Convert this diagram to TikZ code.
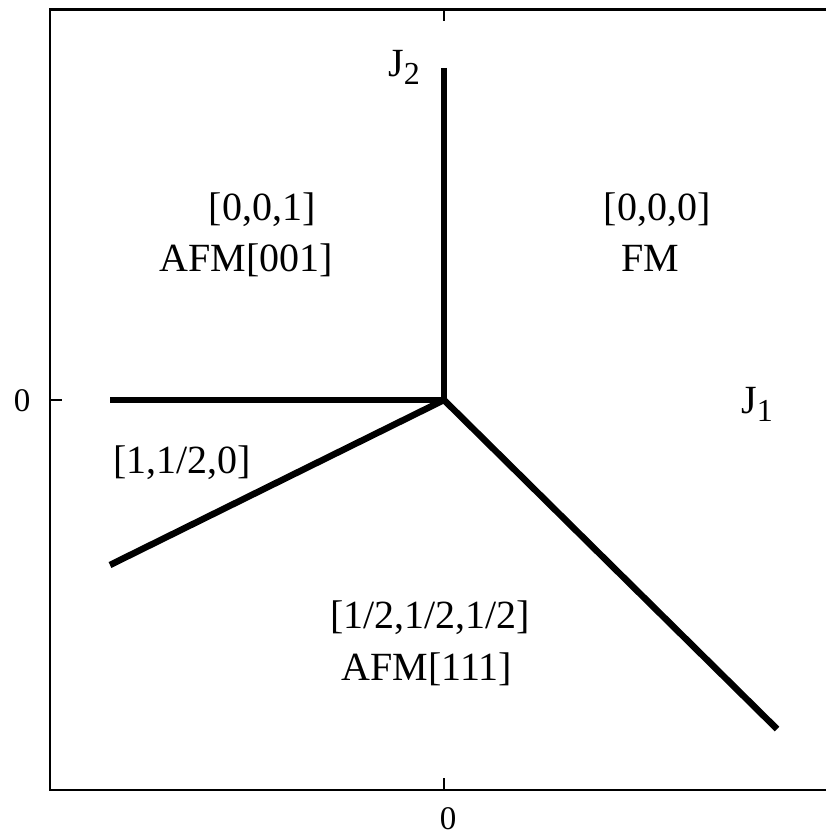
\documentclass[tikz,border=0pt]{standalone}
\usepackage{fontspec}
\setmainfont{Liberation Serif}
\begin{document}
\begin{tikzpicture}[x=1pt,y=-1pt,
  frame/.style={line width=2.5pt,line cap=butt},
  phase/.style={line width=6.5pt,line cap=butt,line join=miter},
  lbl/.style={inner sep=0pt,anchor=base,font=\fontsize{40}{40}\selectfont},
  tick/.style={inner sep=0pt,anchor=base,font=\fontsize{33}{33}\selectfont}]
\useasboundingbox (0,0) rectangle (825,837);
% frame
\coordinate (tr) at (826,9.5);
\coordinate (tl) at (50,9.5);
\coordinate (bl) at (50,790);
\coordinate (br) at (826,790);
\draw[frame] (tr) -- (tl) -- (bl) -- (br);
% ticks
\coordinate (lt0) at (50,400); \coordinate (lt1) at (62,400);
\coordinate (tt0) at (444,9.5); \coordinate (tt1) at (444,21);
\coordinate (bt0) at (444,790); \coordinate (bt1) at (444,778);
\draw[frame] (lt0) -- (lt1);
\draw[frame] (tt0) -- (tt1);
\draw[frame] (bt0) -- (bt1);
% phase boundaries
\coordinate (o) at (444,400);
\coordinate (up) at (444,68);
\coordinate (lf) at (110,400);
\coordinate (ll) at (110,565);
\coordinate (lr) at (777,729);
\draw[phase] (up) -- (o);
\draw[phase] (lf) -- (o);
\draw[phase] (ll) -- (o);
\draw[phase] (lr) -- (o);
% labels
\node[lbl] (a1) at (262,220) {[0,0,1]};
\node[lbl] (a2) at (246,271) {AFM[001]};
\node[lbl] (b1) at (657,220) {[0,0,0]};
\node[lbl] (b2) at (650,271) {FM};
\node[lbl] (c1) at (182,473) {[1,1/2,0]};
\node[lbl] (d1) at (430,628) {[1/2,1/2,1/2]};
\node[lbl] (d2) at (427,680) {AFM[111]};
\node[lbl,anchor=base west] (j2) at (388,77) {J\raisebox{-8pt}{\fontsize{32}{32}\selectfont 2}};
\node[lbl,anchor=base west] (j1) at (741,413) {J\raisebox{-8pt}{\fontsize{32}{32}\selectfont 1}};
\node[tick] (t0) at (22,411) {0};
\node[tick] (t1) at (448,829) {0};
\end{tikzpicture}
\end{document}
